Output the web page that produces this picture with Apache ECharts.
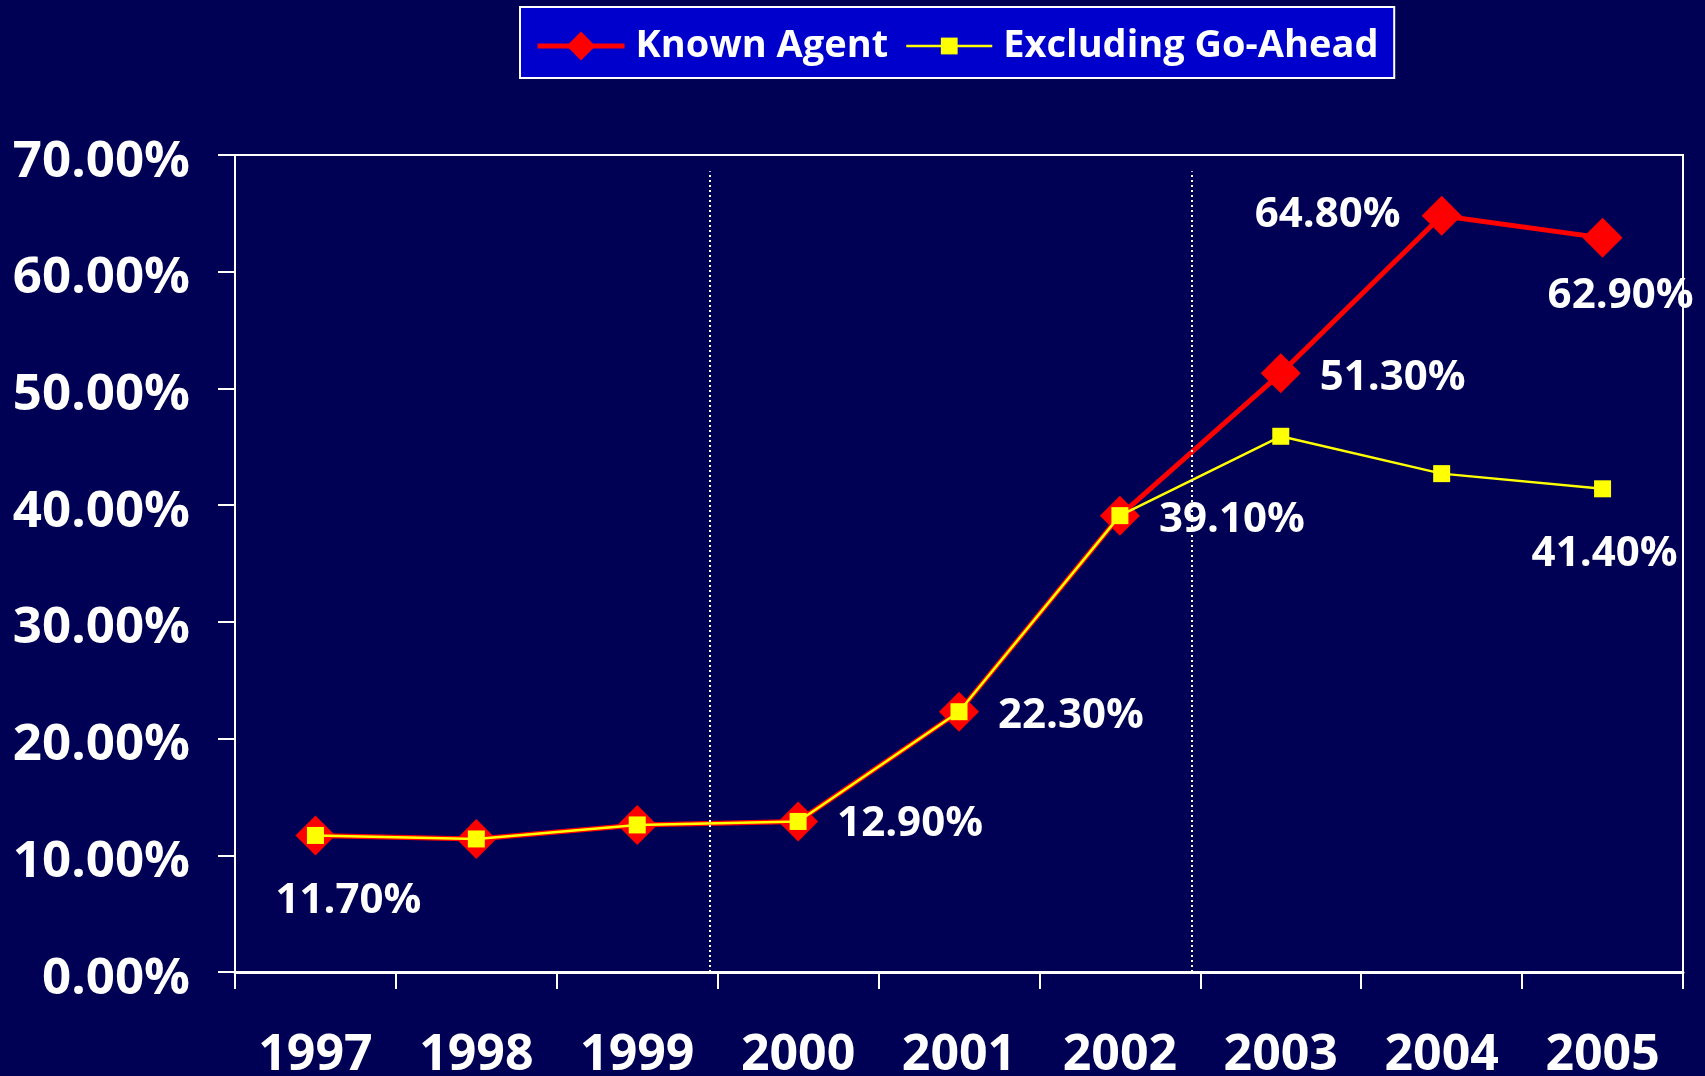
<!DOCTYPE html>
<html lang="en" style="height: 100%">
<head>
  <meta charset="utf-8">
</head>
<body style="height: 100%; margin: 0; background: #000055">
  <div id="container" style="height: 100%"></div>
  <script type="text/javascript" src="https://fastly.jsdelivr.net/npm/echarts@6/dist/echarts.min.js"></script>
  <script type="text/javascript">
    var years = ['1997', '1998', '1999', '2000', '2001', '2002', '2003', '2004', '2005'];
    var knownAgent = [11.7, 11.4, 12.6, 12.9, 22.3, 39.1, 51.3, 64.8, 62.9];
    var excludingGoAhead = [11.7, 11.4, 12.6, 12.9, 22.3, 39.1, 45.9, 42.7, 41.4];
    var yTicks = [0, 10, 20, 30, 40, 50, 60, 70];
    // dotted dividers, in category units from the left edge of the plot
    var dividers = [2.95, 5.945];
    var dividerTop = 68.6;

    var font = "'Open Sans', 'Noto Sans', sans-serif";

    // which points carry a value label, and where
    var knownLabels = {
      0: { position: 'bottom', offset: [33, 20] },
      3: { position: 'right', offset: [14, 3] },
      4: { position: 'right', offset: [14, 4] },
      5: { position: 'right', offset: [14, 4] },
      6: { position: 'right', offset: [14, 5] },
      7: { position: 'left', offset: [-16, -1] },
      8: { position: 'bottom', offset: [18, 12] }
    };
    var excludingLabels = {
      8: { position: 'bottom', offset: [2, 31] }
    };

    function withLabels(values, labels) {
      return values.map(function (v, i) {
        var l = labels[i];
        if (!l) return v;
        return {
          value: v,
          label: {
            show: true,
            position: l.position,
            offset: l.offset,
            formatter: function (p) { return p.value.toFixed(2) + '%'; },
            color: '#ffffff',
            fontFamily: font,
            fontWeight: 'bold',
            fontSize: 42
          }
        };
      });
    }

    var legendText = {
      color: '#ffffff',
      fontFamily: font,
      fontWeight: 'bold',
      fontSize: 38,
      padding: [0, 0, 0, 6]
    };

    var dom = document.getElementById('container');
    var myChart = echarts.init(dom, null, { renderer: 'canvas' });

    var option = {
      backgroundColor: '#000055',
      animation: false,
      legend: [{
        // first item carries the framed box for both
        left: 520,
        top: 7,
        padding: [20, 506, 13, 15],
        backgroundColor: '#0000cc',
        borderColor: '#ffffff',
        borderWidth: 2,
        itemWidth: 87,
        itemHeight: 36,
        selectedMode: false,
        lineStyle: { width: 'inherit' },
        textStyle: legendText,
        data: ['Known Agent'],
        z: 4
      }, {
        left: 905,
        top: 27,
        padding: 0,
        itemWidth: 86,
        itemHeight: 21,
        selectedMode: false,
        lineStyle: { width: 'inherit' },
        textStyle: legendText,
        data: ['Excluding Go-Ahead'],
        z: 5
      }],
      grid: {
        left: 235,
        right: 22,
        top: 155,
        bottom: 104,
        containLabel: false,
        outerBoundsMode: 'none',
        show: true,
        borderColor: '#ffffff',
        borderWidth: 2,
        backgroundColor: 'transparent'
      },
      xAxis: [{
        type: 'category',
        data: years,
        boundaryGap: true,
        axisLine: { lineStyle: { color: '#ffffff', width: 3 } },
        axisTick: { show: true, length: 17, lineStyle: { color: '#ffffff', width: 2 } },
        axisLabel: {
          color: '#ffffff',
          fontFamily: font,
          fontWeight: 'bold',
          fontSize: 50,
          margin: 59
        },
        splitLine: { show: false }
      }, {
        type: 'value',
        min: 0,
        max: years.length,
        show: false
      }],
      yAxis: {
        type: 'value',
        min: yTicks[0],
        max: yTicks[yTicks.length - 1],
        interval: 10,
        axisLine: { show: true, lineStyle: { color: '#ffffff', width: 2 } },
        axisTick: { show: true, length: 17, lineStyle: { color: '#ffffff', width: 2 } },
        axisLabel: {
          color: '#ffffff',
          margin: 45,
          formatter: function (v) { return '{t|' + v.toFixed(2) + '%}'; },
          rich: {
            t: {
              color: '#ffffff',
              fontFamily: font,
              fontWeight: 'bold',
              fontSize: 51,
              padding: [14, 0, 0, 0]
            }
          }
        },
        splitLine: { show: false }
      },
      series: [{
        name: 'dividers',
        type: 'line',
        xAxisIndex: 1,
        data: [],
        silent: true,
        markLine: {
          silent: true,
          symbol: 'none',
          label: { show: false },
          lineStyle: { color: '#ffffff', type: [2, 3], width: 2 },
          data: dividers.map(function (d) {
            return [{ coord: [d, 0] }, { coord: [d, dividerTop] }];
          })
        }
      }, {
        name: 'Known Agent',
        type: 'line',
        data: withLabels(knownAgent, knownLabels),
        symbol: 'diamond',
        symbolSize: 40,
        itemStyle: { color: '#ff0000' },
        lineStyle: { color: '#ff0000', width: 5 },
        z: 3
      }, {
        name: 'Excluding Go-Ahead',
        type: 'line',
        data: withLabels(excludingGoAhead, excludingLabels),
        symbol: 'rect',
        symbolSize: 17,
        itemStyle: { color: '#ffff00' },
        lineStyle: { color: '#ffff00', width: 2.5 },
        z: 4
      }]
    };

    myChart.setOption(option);
    window.addEventListener('resize', myChart.resize);
  </script>
</body>
</html>
